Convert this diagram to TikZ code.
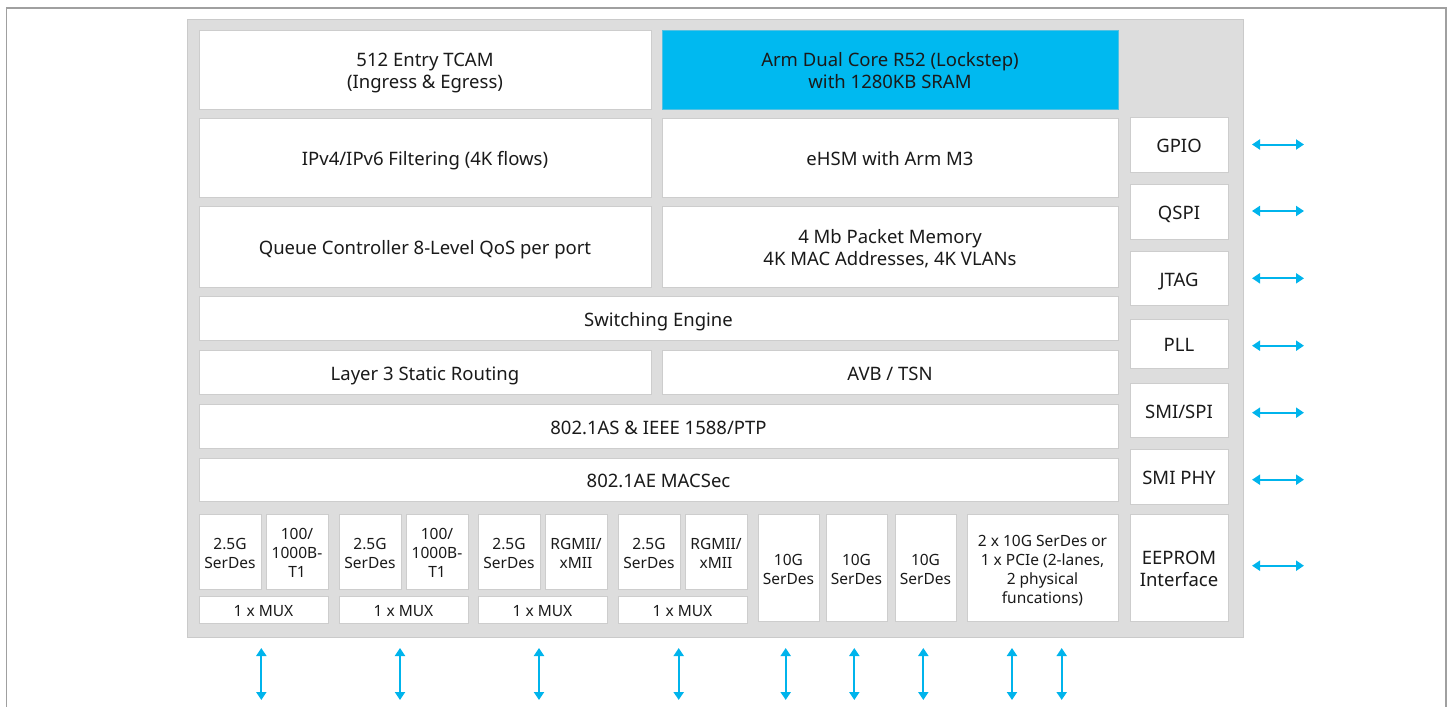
\documentclass[tikz,border=0pt]{standalone}
\usepackage{fontspec}
\setmainfont{Noto Sans}
\usetikzlibrary{arrows.meta}
\definecolor{armblue}{HTML}{00B9F0}
\definecolor{arrowblue}{HTML}{00B4EC}
\definecolor{panelfill}{HTML}{DDDDDD}
\definecolor{panelline}{HTML}{CACACA}
\definecolor{boxline}{HTML}{CDCDCD}
\definecolor{frameline}{HTML}{A0A0A0}
\definecolor{txt}{HTML}{1A1A1A}
% centred lines, drawn 3.5pt lower than plain centring would put them
\newcommand\ttx[1]{\raisebox{0pt}[\dimexpr\height+7pt\relax][\depth]{\begin{tabular}{@{}c@{}}#1\end{tabular}}}
\tikzset{
  blk/.style={draw=boxline, fill=white, line width=1pt, inner sep=0pt, outer sep=0pt,
    anchor=north west, text=txt, font=\fontsize{18.5}{22.5}\selectfont},
  sblk/.style={blk, font=\fontsize{15.5}{19}\selectfont},
  arr/.style={draw=arrowblue, line width=2pt, {Triangle[length=8pt,width=10pt]}-{Triangle[length=8pt,width=10pt]}}
}
\begin{document}
\begin{tikzpicture}[x=1pt,y=-1pt]
\useasboundingbox (0,0) rectangle (1449,707);
% outer frame
\draw[frameline, line width=1.5pt] (6.5,707) -- (6.5,8) -- (1446,8) -- (1446,707);
% panel
\node[draw=panelline, fill=panelfill, line width=1pt, minimum width=1056pt, minimum height=618pt, anchor=north west, inner sep=0pt, outer sep=0pt] (panel) at (187,19) {};
% top rows
\node[blk, minimum width=452pt, minimum height=79pt] (tcam) at (199,30) {\ttx{512 Entry TCAM\\(Ingress \& Egress)}};
\node[blk, fill=armblue, draw=armblue!60!boxline, minimum width=456pt, minimum height=79pt] (arm) at (662,30) {\ttx{Arm Dual Core R52 (Lockstep)\\with 1280KB SRAM}};
\node[blk, minimum width=452pt, minimum height=79pt] (ipf) at (199,118) {\ttx{IPv4/IPv6 Filtering (4K flows)}};
\node[blk, minimum width=456pt, minimum height=79pt] (ehsm) at (662,118) {\ttx{eHSM with Arm M3}};
\node[blk, minimum width=452pt, minimum height=81pt] (queue) at (199,206) {\ttx{Queue Controller 8-Level QoS per port}};
\node[blk, minimum width=456pt, minimum height=81pt] (pmem) at (662,206) {\ttx{4 Mb Packet Memory\\4K MAC Addresses, 4K VLANs}};
\node[blk, minimum width=919pt, minimum height=44pt] (sweng) at (199,296) {\ttx{Switching Engine}};
\node[blk, minimum width=452pt, minimum height=44pt] (l3) at (199,350) {\ttx{Layer 3 Static Routing}};
\node[blk, minimum width=456pt, minimum height=44pt] (avb) at (662,350) {\ttx{AVB / TSN}};
\node[blk, minimum width=919pt, minimum height=44pt] (ptp) at (199,404) {\ttx{802.1AS \& IEEE 1588/PTP}};
\node[blk, minimum width=919pt, minimum height=43pt] (macsec) at (199,458) {\ttx{802.1AE MACSec}};
% bottom groups
\node[sblk, minimum width=62pt, minimum height=75pt] (g1a) at (199,514) {\ttx{2.5G\\SerDes}};
\node[sblk, minimum width=62pt, minimum height=75pt] (g1b) at (266,514) {\ttx{100/\\1000B-\\T1}};
\node[sblk, minimum width=129pt, minimum height=27pt] (mux1) at (199,596) {\ttx{1 x MUX}};
\node[sblk, minimum width=62pt, minimum height=75pt] (g2a) at (339,514) {\ttx{2.5G\\SerDes}};
\node[sblk, minimum width=62pt, minimum height=75pt] (g2b) at (406,514) {\ttx{100/\\1000B-\\T1}};
\node[sblk, minimum width=129pt, minimum height=27pt] (mux2) at (339,596) {\ttx{1 x MUX}};
\node[sblk, minimum width=62pt, minimum height=75pt] (g3a) at (478,514) {\ttx{2.5G\\SerDes}};
\node[sblk, minimum width=62pt, minimum height=75pt] (g3b) at (545,514) {\ttx{RGMII/\\xMII}};
\node[sblk, minimum width=129pt, minimum height=27pt] (mux3) at (478,596) {\ttx{1 x MUX}};
\node[sblk, minimum width=62pt, minimum height=75pt] (g4a) at (618,514) {\ttx{2.5G\\SerDes}};
\node[sblk, minimum width=62pt, minimum height=75pt] (g4b) at (685,514) {\ttx{RGMII/\\xMII}};
\node[sblk, minimum width=129pt, minimum height=27pt] (mux4) at (618,596) {\ttx{1 x MUX}};
\node[sblk, minimum width=61pt, minimum height=107pt] (tg1) at (758,514) {\ttx{10G\\SerDes}};
\node[sblk, minimum width=61pt, minimum height=107pt] (tg2) at (826,514) {\ttx{10G\\SerDes}};
\node[sblk, minimum width=61pt, minimum height=107pt] (tg3) at (895,514) {\ttx{10G\\SerDes}};
\node[sblk, minimum width=151pt, minimum height=107pt] (pcie) at (967,514) {\ttx{2 x 10G SerDes or\\1 x PCIe (2-lanes,\\2 physical\\funcations)}};
% right column
\node[blk, minimum width=98pt, minimum height=55pt] (gpio) at (1130,117) {\ttx{GPIO}};
\node[blk, minimum width=98pt, minimum height=55pt] (qspi) at (1130,184) {\ttx{QSPI}};
\node[blk, minimum width=98pt, minimum height=54pt] (jtag) at (1130,251) {\ttx{JTAG}};
\node[blk, minimum width=98pt, minimum height=49pt] (pll) at (1130,319) {\ttx{PLL}};
\node[blk, minimum width=98pt, minimum height=54pt] (smispi) at (1130,383) {\ttx{SMI/SPI}};
\node[blk, minimum width=98pt, minimum height=55pt] (smiphy) at (1130,449) {\ttx{SMI PHY}};
\node[blk, minimum width=98pt, minimum height=107pt] (eeprom) at (1130,514) {\ttx{EEPROM\\Interface}};
% right arrows
\foreach \n/\y in {gpio/144.5, qspi/211, jtag/278.3, pll/345.7, smispi/412.7, smiphy/479.7, eeprom/565.7}{
  \coordinate (\n L) at (1252,\y);
  \coordinate (\n R) at (1304,\y);
  \draw[arr] (\n L) -- (\n R);
}
% bottom arrows
\foreach \i/\x in {1/261.3, 2/400, 3/539, 4/678.7, 5/785.7, 6/854.3, 7/923.3, 8/1012, 9/1061.7}{
  \coordinate (b\i T) at (\x,648);
  \coordinate (b\i B) at (\x,700);
  \draw[arr] (b\i T) -- (b\i B);
}
\end{tikzpicture}
\end{document}
